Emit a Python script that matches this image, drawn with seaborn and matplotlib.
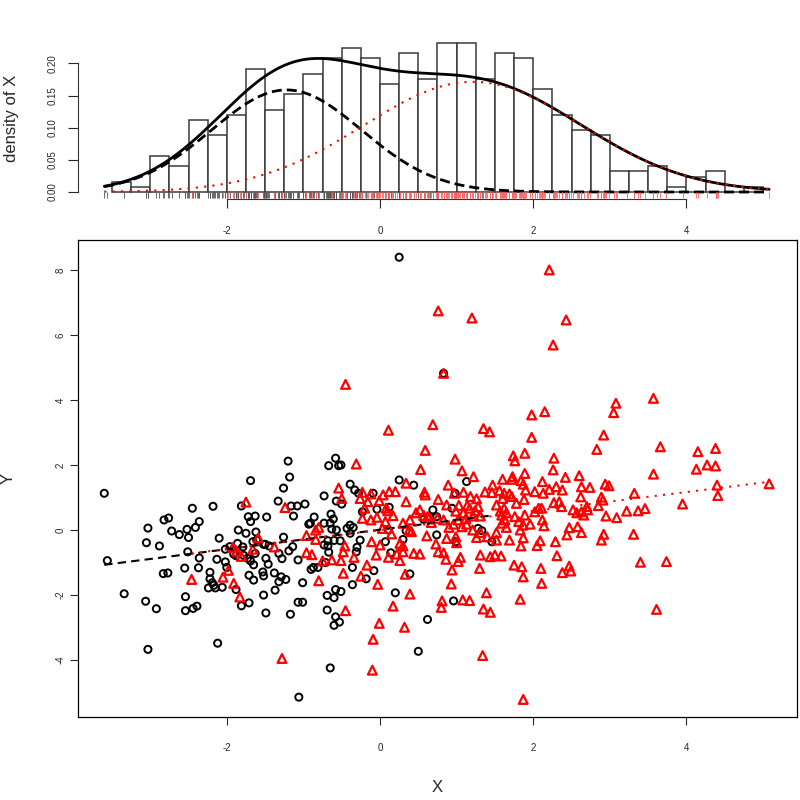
"""plot.py

Histogram of X with fitted two-component normal mixture (top) and
the X/Y scatter coloured by component with per-group fit lines (bottom).

"""

import numpy as np
import matplotlib
matplotlib.use("Agg")
import matplotlib.pyplot as plt
import seaborn as sns

# histogram of X: bin edges and counts
BIN_START = -3.5
BIN_WIDTH = 0.25
bin_counts = [2, 1, 7, 5, 14, 11, 15, 24, 16, 19, 23, 26, 28, 26, 21, 27, 22,
              29, 29, 22, 27, 26, 20, 15, 12, 11, 4, 4, 5, 1, 3, 4, 0, 1]
n_total = 500

# fitted mixture components (weight, mean, sd)
comp_black = (0.39, -1.22, 0.98)
comp_red = (0.61, 1.21, 1.42)

# per-group regression lines (intercept, slope)
line_black = (0.01, 0.30)
line_red = (0.00, 0.292)

# group 1 (black circles)
black_x = [-3.60, -3.56, -3.34, -3.06, -3.03, -2.92, -3.05, -3.03, -2.88, -2.82,
           -2.76, -2.72, -2.62, -2.52, -2.50, -2.45, -2.41, -2.36, -2.51, -2.83,
           -2.77, -2.55, -2.37, -2.54, -2.54, -2.44, -2.39, -2.36, -2.18, -2.12,
           -2.10, -2.13, -2.22, -2.22, -2.19, -2.17, -2.15, -2.24, -2.06, -2.02,
           -2.00, -2.02, -1.96, -1.91, -1.88, -1.86, -1.79, -1.78, -1.85, -1.75,
           -1.69, -1.81, -1.72, -1.63, -1.69, -1.62, -1.48, -1.66, -1.61, -1.52,
           -1.50, -1.45, -1.73, -1.69, -1.65, -1.63, -1.49, -1.46, -1.71, -1.65,
           -1.53, -1.52, -1.88, -1.81, -1.71, -1.52, -1.49, -1.38, -1.37, -1.32,
           -1.29, -1.23, -1.17, -1.33, -1.26, -1.20, -1.18, -1.26, -1.32, -1.28,
           -1.19, -1.14, -1.16, -1.13, -1.08, -1.07, -1.07, -1.06, -0.58, -0.67,
           -0.54, -0.51, -0.73, -0.57, -0.50, -0.98, -0.86, -0.64, -0.61, -0.73,
           -0.65, -0.91, -0.93, -0.57, -0.63, -0.43, -0.60, -0.52, -0.68, -0.73,
           -0.68, -1.01, -0.90, -0.87, -0.81, -0.71, -0.67, -0.69, -0.60, -0.58,
           -0.51, -0.69, -0.58, -0.53, -0.60, -0.65, -1.01, 0.25, 0.44, 1.13,
           -0.33, -0.39, -0.28, -0.09, -0.04, 0.12, -0.23, 0.69, 0.94, 0.98,
           0.57, 0.65, 0.74, 1.28, 1.33, -0.39, -0.35, -0.39, 0.11, 0.34,
           0.74, -0.26, 0.07, 0.30, -0.30, 1.46, 0.99, -0.31, -0.36, -0.08,
           -0.18, -0.36, 0.14, 0.39, 0.20, 0.96, 0.62, 0.50, 0.25, 0.83]
black_y = [1.13, -0.94, -1.96, -2.19, -3.67, -2.42, -0.39, 0.06, -0.49, 0.31,
           0.37, -0.03, -0.14, 0.02, -0.23, 0.67, 0.08, 0.26, -0.67, -1.34,
           -1.32, -1.17, -1.16, -2.05, -2.48, -2.41, -2.34, -0.86, 0.73, -3.48,
           -0.25, -0.90, -1.30, -1.50, -1.62, -1.70, -1.78, -1.78, -1.76, -0.98,
           -1.15, -0.59, -0.51, -0.74, -0.79, -0.41, -0.52, -0.78, 0.00, -0.10,
           1.52, 0.74, 0.41, 0.43, 0.26, -0.06, 0.40, -0.36, -0.31, -0.44,
           -0.44, -0.49, -0.87, -0.95, -1.07, -0.72, -0.87, -1.05, -1.39, -1.54,
           -1.29, -1.41, -1.83, -2.33, -2.24, -2.00, -2.55, -1.32, -1.85, -1.59,
           -1.44, -1.52, -2.59, 0.89, 1.29, 2.12, 1.63, -0.22, -0.72, -0.88,
           -0.64, -0.51, 0.74, 0.43, 0.74, -0.92, -2.22, -5.14, 2.21, 1.98,
           1.98, 2.00, 1.05, 0.89, 0.80, 0.80, 0.40, 0.49, 0.34, 0.21,
           0.21, 0.21, 0.18, 0.00, 0.03, 0.05, -0.32, -0.33, -0.33, -0.46,
           -0.49, -1.62, -1.21, -1.15, -1.15, -1.00, -0.68, -2.01, -2.08, -1.83,
           -1.89, -2.46, -2.67, -2.83, -2.93, -4.24, -2.22, 1.54, 1.38, 1.49,
           1.23, 1.41, 1.13, 1.13, 0.64, 0.70, 0.56, 0.62, 0.67, 1.13,
           0.33, 0.41, 0.41, 0.05, -0.02, 0.15, 0.08, -0.10, 0.00, -0.02,
           -0.15, -0.31, -0.36, -0.29, -0.53, -0.36, -0.36, -0.67, -1.15, -1.25,
           -1.50, -1.68, -0.70, -1.35, -1.93, -2.18, -2.75, -3.73, 8.39, 4.82]

# group 2 (red triangles)
red_x = [-1.75, -1.24, -1.59, -1.92, -1.87, -1.81, -1.66, -1.38, -2.46, -2.05,
         -1.98, -1.91, -1.83, -1.28, -0.54, -0.50, -0.84, -0.80, -0.96, -0.84,
         -0.46, -0.80, -0.75, -0.63, -0.51, -0.48, -0.45, -0.96, -0.89, -0.48,
         0.76, 1.20, 0.83, -0.45, 0.11, 0.69, 1.35, 1.43, 2.21, 2.26,
         2.43, 5.08,
         0.59, -0.31, 0.98, 1.74, 1.89, 1.76, 0.53, 1.07, 1.22, 1.89,
         0.89, 0.34, 1.47, 1.60, 1.73, 1.72, 1.84, 1.87, 1.90, -0.23,
         -0.12, 0.04, 0.12, 0.20, -0.26, -0.16, -0.01, 0.34, 0.58, 0.59,
         0.76, 0.97, 1.09, 1.18, 1.26, 1.37, 1.46, 1.56, 1.62, 1.69,
         1.60, 1.72, 1.78, 1.88, -0.20, 0.08, 0.10, 0.17, 0.47, 0.52,
         0.57, 0.64, 0.87, 1.03, 1.14, 0.99, 1.09, 1.17, 1.28, 1.24,
         1.31, 1.22, 1.12, 1.02, 0.96, 1.07, 1.13, 1.52, 1.57, 1.62,
         1.65, 1.59, 1.76, 1.89, 1.81, 1.87, 1.59, 1.63, -0.23, -0.12,
         -0.04, 0.07, 0.03, 0.15, 0.30, 0.39, 0.38, 0.41, 0.62, 0.67,
         0.75, 0.83, 0.90, 0.61, 0.73, 0.87, 0.99, 1.00, 1.21, 1.31,
         1.26, 1.40, 1.52, 1.65, 1.83, 1.87, 1.69, 1.52, 1.84, -0.11,
         0.00, 0.26, 0.30,
         -0.05, 0.11, 0.22, 0.26, 0.30, 0.44, 0.52, 0.76, 0.83, 0.86,
         1.02, 1.05, 1.31, 1.44, 1.50, 1.58, 1.75, 1.85, 1.87, -0.34,
         -0.17, -0.25, -0.03, 0.33, 0.39, 0.17, 0.81, 0.80, 0.94, 0.93,
         1.08, 1.17, 1.39, 1.30, 1.35, 1.44, 1.83, -0.01, 0.32, -0.09,
         -0.10, 1.34, 1.87,
         3.57, 3.08, 3.05, 2.15, 1.98, 1.98, 2.92, 2.83, 3.66, 4.15,
         4.38, 2.27, 2.26, 3.57, 4.13, 4.27, 4.38, 4.40, 4.41, 2.42,
         2.60, 2.12, 2.02, 2.13, 2.21, 2.30, 2.38, 2.63, 2.74, 2.94,
         2.99, 3.32, 2.62, 2.89, 2.91, 2.27, 2.34, 2.37, 2.07, 2.11,
         2.02, 2.52, 2.57, 2.63, 2.70, 2.71, 2.66, 2.85, 2.95, 3.09,
         3.22, 3.37, 3.46, 3.95, 1.96, 2.12, 2.14, 2.47, 2.58, 2.63,
         2.44, 2.92, 2.89, 3.31, 2.09, 2.05, 2.29,
         2.31, 2.10, 2.47, 2.49, 2.38, 2.11, 3.40, 3.74, 3.61]
red_y = [0.86, 0.69, -0.24, -0.53, -0.65, -0.81, -0.59, -0.52, -1.52, -1.45,
         -1.24, -1.64, -2.06, -3.95, 1.29, 0.97, 0.00, 0.08, -0.17, -0.29,
         -0.49, -1.56, -0.95, -0.92, -0.94, -1.33, -2.48, -0.70, -0.76, -0.67,
         6.74, 6.52, 4.82, 4.48, 3.07, 3.24, 3.12, 3.02, 8.00, 5.69,
         6.46, 1.42,
         2.45, 2.03, 2.18, 2.28, 2.36, 2.13, 1.86, 1.82, 1.64, 1.74,
         1.38, 1.44, 1.38, 1.56, 1.64, 1.56, 1.52, 1.41, 1.23, 1.16,
         1.11, 1.08, 1.18, 1.18, 0.97, 0.87, 0.90, 0.87, 1.16, 1.08,
         0.94, 1.13, 1.16, 1.03, 0.96, 1.17, 1.15, 1.21, 1.13, 1.11,
         0.97, 1.03, 0.82, 0.94, 0.67, 0.67, 0.59, 0.44, 0.53, 0.62,
         0.45, 0.41, 0.77, 0.76, 0.76, 0.58, 0.53, 0.67, 0.72, 0.59,
         0.43, 0.43, 0.35, 0.31, 0.18, 0.10, 0.18, 0.77, 0.58, 0.67,
         0.53, 0.46, 0.41, 0.46, 0.26, 0.15, 0.21, 0.31, 0.36, 0.31,
         0.39, 0.26, 0.05, -0.12, 0.21, 0.31, 0.00, -0.05, 0.41, 0.23,
         0.36, 0.31, 0.08, -0.18, -0.43, -0.26, -0.21, -0.39, 0.00, -0.08,
         -0.23, -0.21, -0.08, 0.08, 0.00, -0.24, -0.31, -0.31, -0.49, -0.36,
         -0.46, -0.41, -0.49,
         -0.77, -0.84, -0.74, -0.94, -0.67, -0.72, -0.74, -0.67, -0.70, -0.90,
         -0.97, -0.84, -0.77, -0.82, -0.77, -0.80, -1.08, -1.13, -1.44, -0.84,
         -1.08, -1.42, -1.67, -1.36, -1.97, -2.34, -2.18, -2.38, -1.23, -1.66,
         -2.15, -2.17, -1.93, -1.18, -2.43, -2.53, -2.13, -2.87, -2.99, -3.36,
         -4.31, -3.86, -5.21,
         4.05, 3.90, 3.61, 3.64, 3.54, 2.85, 2.92, 2.48, 2.56, 2.41,
         2.51, 2.21, 1.85, 1.72, 1.87, 2.00, 1.97, 1.38, 1.06, 1.62,
         1.67, 1.49, 1.18, 1.13, 1.25, 1.33, 1.23, 1.33, 1.31, 1.41,
         1.36, 1.13, 1.02, 1.01, 0.92, 0.84, 0.87, 0.72, 0.67, 0.67,
         0.56, 0.62, 0.53, 0.56, 0.72, 0.62, 0.46, 0.75, 0.43, 0.38,
         0.58, 0.59, 0.66, 0.80, 0.18, 0.31, 0.13, 0.07, 0.10, -0.08,
         -0.15, -0.13, -0.31, -0.13, -0.33, -0.48, -0.36,
         -0.79, -1.18, -1.11, -1.26, -1.31, -1.64, -0.99, -0.97, -2.44]

XLIM = (-3.943, 5.444)


def normal_pdf(x, mean, sd):
    return np.exp(-0.5 * ((x - mean) / sd) ** 2) / (sd * np.sqrt(2 * np.pi))


def run():
    sns.set_style("white")
    plt.rcParams["font.family"] = ["Liberation Sans", "DejaVu Sans"]
    plt.rcParams["axes.unicode_minus"] = False

    fig = plt.figure(figsize=(8, 8), dpi=100)
    ax_top = fig.add_axes([78 / 800, 1 - 199 / 800, 719 / 800, 157 / 800])
    ax = fig.add_axes([78 / 800, 1 - 717 / 800, 719 / 800, 477 / 800])

    # ---- top panel: histogram, mixture densities and rug
    edges = BIN_START + BIN_WIDTH * np.arange(len(bin_counts))
    dens = np.array(bin_counts) / (n_total * BIN_WIDTH)
    ax_top.bar(edges, dens, width=BIN_WIDTH, align="edge",
               facecolor="white", edgecolor="#3a3a3a", linewidth=1.1)

    all_x = black_x + red_x
    grid = np.linspace(min(all_x), max(all_x), 300)
    d_black = comp_black[0] * normal_pdf(grid, comp_black[1], comp_black[2])
    d_red = comp_red[0] * normal_pdf(grid, comp_red[1], comp_red[2])
    sns.lineplot(x=grid, y=d_black + d_red, ax=ax_top, color="black", lw=2)
    sns.lineplot(x=grid, y=d_black, ax=ax_top, color="black", lw=2,
                 linestyle=(0, (3.6, 1.8)))
    sns.lineplot(x=grid, y=d_red, ax=ax_top, color="red", lw=1.5,
                 linestyle=(0, (1, 3)))

    ax_top.vlines(black_x, -0.0095, 0, color="#555555", lw=0.6)
    ax_top.vlines(red_x, -0.0095, 0, color="#ff6060", lw=0.6)

    ax_top.set_xlim(XLIM)
    ax_top.set_ylim(-0.0109, 0.2333)
    ax_top.set_xticks([-2, 0, 2, 4])
    ax_top.set_yticks([0.0, 0.05, 0.10, 0.15, 0.20])
    ax_top.set_yticklabels(["0.00", "0.05", "0.10", "0.15", "0.20"])
    for side in ["top", "right"]:
        ax_top.spines[side].set_visible(False)
    ax_top.spines["left"].set_bounds(0, 0.2)
    ax_top.spines["bottom"].set_bounds(-2, 4)
    ax_top.tick_params(axis="x", length=6.5, width=0.8, labelsize=7, pad=13,
                       bottom=True)
    ax_top.tick_params(axis="y", length=7, width=0.8, labelsize=7, pad=8,
                       left=True)
    for lab in ax_top.get_yticklabels():
        lab.set_rotation(90)
        lab.set_va("center")
    for sp in ax_top.spines.values():
        sp.set_color("#333333")
        sp.set_linewidth(0.8)
    ax_top.set_xlabel("")
    ax_top.set_ylabel("")

    # ---- bottom panel: scatter with group fit lines
    sns.scatterplot(x=black_x, y=black_y, ax=ax, marker="o", s=26,
                    facecolor="none", edgecolor="black", linewidth=1.4)
    sns.scatterplot(x=red_x, y=red_y, ax=ax, marker="^", s=40,
                    facecolor="none", edgecolor="red", linewidth=1.6)

    bx = [min(black_x), max(black_x)]
    rx = [min(red_x), max(red_x)]
    sns.lineplot(x=bx, y=[line_black[0] + line_black[1] * v for v in bx],
                 ax=ax, color="black", lw=1.5, linestyle=(0, (4, 2.5)))
    sns.lineplot(x=rx, y=[line_red[0] + line_red[1] * v for v in rx],
                 ax=ax, color="red", lw=1.5, linestyle=(0, (1, 3)))

    ax.set_xlim(XLIM)
    ax.set_ylim(-5.75, 8.92)
    ax.set_xticks([-2, 0, 2, 4])
    ax.set_yticks([-4, -2, 0, 2, 4, 6, 8])
    ax.tick_params(axis="both", length=6, width=0.8, labelsize=7,
                   bottom=True, left=True)
    ax.tick_params(axis="x", pad=13)
    ax.tick_params(axis="y", pad=3)
    for lab in ax.get_yticklabels():
        lab.set_rotation(90)
        lab.set_va("center")
    for sp in ax.spines.values():
        sp.set_color("black")
        sp.set_linewidth(0.9)
        sp.set_visible(True)
    ax.set_xlabel("")
    ax.set_ylabel("")

    fig.text(437 / 800, 1 - 788 / 800, "X", fontsize=12, ha="center",
             va="center")
    fig.text(8 / 800, 1 - 478 / 800, "Y", fontsize=12, ha="center",
             va="center", rotation=90)
    fig.text(12 / 800, 1 - 118 / 800, "density of X", fontsize=12,
             ha="center", va="center", rotation=90)

    fig.savefig("out.png", dpi=100)


if __name__ == "__main__":
    run()
